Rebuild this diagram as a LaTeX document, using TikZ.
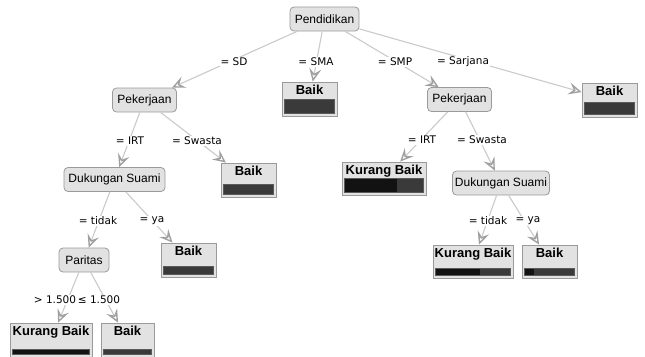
\documentclass[tikz,border=0pt]{standalone}
\usepackage{fontspec}
\setmainfont{Liberation Sans}
\newfontfamily\condfont{DejaVu Sans}
\usetikzlibrary{arrows.meta,calc}

\definecolor{nodefill}{HTML}{E2E2E2}
\definecolor{nodeline}{HTML}{9A9A9A}
\definecolor{edgeline}{HTML}{CACACA}
\definecolor{tipline}{HTML}{A0A0A0}
\definecolor{bardark}{HTML}{121212}
\definecolor{barlight}{HTML}{3A3A3A}
\definecolor{barframe}{HTML}{5A5A5A}

% class-distribution bar at the foot of a leaf: node, bar height, dark share
\newcommand{\leafbar}[3]{%
  \coordinate (#1-bl) at ([xshift=3pt,yshift=3pt]#1.south west);
  \coordinate (#1-br) at ([xshift=-3pt,yshift=3pt]#1.south east);
  \coordinate (#1-tr) at ([yshift=#2pt]#1-br);
  \coordinate (#1-m) at ($(#1-bl)!#3!(#1-br)$);
  \fill[barlight] (#1-bl) rectangle (#1-tr);
  \fill[bardark] (#1-bl) rectangle ([yshift=#2pt]#1-m);
  \draw[barframe, line width=0.6pt] (#1-bl) rectangle (#1-tr);
}

\tikzset{
  split/.style={draw=nodeline, fill=nodefill, rounded corners=4pt, line width=0.8pt,
    inner sep=0pt, minimum height=24pt, font=\fontsize{12}{14}\selectfont},
  leaf/.style={draw=nodeline, fill=nodefill, line width=0.8pt, inner sep=0pt,
    minimum height=34pt},
  leaftitle/.style={anchor=north, inner sep=0pt, yshift=-3.5pt,
    font=\bfseries\fontsize{13}{14}\selectfont},
  edge/.style={draw=edgeline, line width=1.1pt,
    -{Stealth[open, length=13pt, width=12pt, inset=5pt, color=tipline, line width=1.4pt]}},
  cond/.style={fill=white, inner sep=1pt, font=\condfont\fontsize{10.5}{12}\selectfont},
}

\begin{document}
\begin{tikzpicture}[x=1pt, y=-1pt]
\useasboundingbox (0,0) rectangle (645,356);
\clip (0,0) rectangle (645,356);

% split nodes
\node[split, minimum width=69] (pend) at (324.5,19) {Pendidikan};
\node[split, minimum width=64] (pekA) at (144.5,100) {Pekerjaan};
\node[split, minimum width=64] (pekB) at (459.5,99.5) {Pekerjaan};
\node[split, minimum width=101] (dukA) at (114.5,179.5) {Dukungan Suami};
\node[split, minimum width=97] (dukB) at (501,183) {Dukungan Suami};
\node[split, minimum width=50] (paritas) at (84,260) {Paritas};

% leaves
\node[leaf, minimum width=55, label={[leaftitle]north:Baik}] (sma) at (309.5,99) {};
\node[leaf, minimum width=55, label={[leaftitle]north:Baik}] (sarjana) at (609.5,100) {};
\node[leaf, minimum width=55, label={[leaftitle]north:Baik}] (swastaA) at (248.5,180) {};
\node[leaf, minimum width=84, minimum height=33, label={[leaftitle]north:Kurang Baik}] (irtB) at (384,178.5) {};
\node[leaf, minimum width=55, label={[leaftitle]north:Baik}] (yaA) at (188.5,260) {};
\node[leaf, minimum width=80, minimum height=33, label={[leaftitle]north:Kurang Baik}] (tidakB) at (473,261.5) {};
\node[leaf, minimum width=55, minimum height=33, label={[leaftitle]north:Baik}] (yaB) at (549.5,261.5) {};
\node[leaf, minimum width=82, label={[leaftitle]north:Kurang Baik}] (lowA) at (51,340) {};
\node[leaf, minimum width=53, label={[leaftitle]north:Baik}] (lowB) at (127.5,340) {};

\leafbar{sma}{14}{0}
\leafbar{sarjana}{12}{0}
\leafbar{swastaA}{10}{0}
\leafbar{irtB}{14}{0.66}
\leafbar{yaA}{8}{0}
\leafbar{tidakB}{7}{0.59}
\leafbar{yaB}{7}{0.19}
\leafbar{lowA}{5}{1}
\leafbar{lowB}{5}{0}

% connectors
\draw[edge] (pend) -- (pekA);
\draw[edge] (pend) -- (sma);
\draw[edge] (pend) -- (pekB);
\draw[edge] (pend) -- (sarjana);
\draw[edge] (pekA) -- (dukA);
\draw[edge] (pekA) -- (swastaA);
\draw[edge] (pekB) -- (irtB);
\draw[edge] (pekB) -- (dukB);
\draw[edge] (dukA) -- (paritas);
\draw[edge] (dukA) -- (yaA);
\draw[edge] (dukB) -- (tidakB);
\draw[edge] (dukB) -- (yaB);
\draw[edge] (paritas) -- (lowA);
\draw[edge] (paritas) -- (lowB);

% branch conditions
\node[cond] (cSD) at (234,62) {= SD};
\node[cond] (cSMA) at (316,62) {= SMA};
\node[cond] (cSMP) at (395,62) {= SMP};
\node[cond] (cSarjana) at (463,62) {= Sarjana};
\node[cond] (cIRTa) at (130,141) {= IRT};
\node[cond] (cSwastaA) at (197,141) {= Swasta};
\node[cond] (cIRTb) at (422,140) {= IRT};
\node[cond] (cSwastaB) at (482,140) {= Swasta};
\node[cond] (cTidakA) at (98,221) {= tidak};
\node[cond] (cYaA) at (152,221) {= ya};
\node[cond] (cTidakB) at (488,221) {= tidak};
\node[cond] (cYaB) at (528,221) {= ya};
\node[cond] (cGt) at (55,300) {> 1.500};
\node[cond] (cLe) at (99,300) {≤ 1.500};
\end{tikzpicture}
\end{document}
